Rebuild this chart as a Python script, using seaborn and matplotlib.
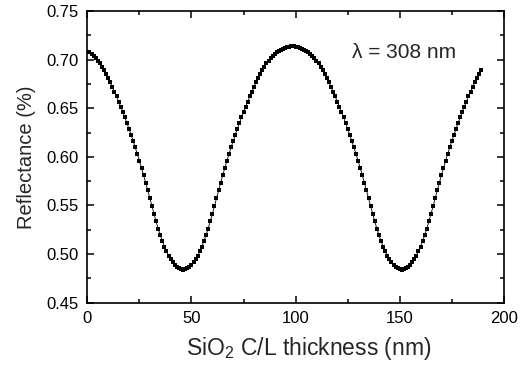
import numpy as np
import pandas as pd
import matplotlib
matplotlib.use("Agg")
import matplotlib.pyplot as plt
from matplotlib.ticker import MultipleLocator
import seaborn as sns

# SiO2 cap-layer thickness (nm), sampled every 1 nm
thickness = np.arange(0, 190)

# Reflectance at 308 nm for each thickness
reflectance = [
    0.7080, 0.7074, 0.7056, 0.7036, 0.7014, 0.6989, 0.6961, 0.6929, 0.6894, 0.6855,
    0.6812, 0.6767, 0.6720, 0.6671, 0.6621, 0.6569, 0.6516, 0.6462, 0.6406, 0.6348,
    0.6288, 0.6226, 0.6162, 0.6096, 0.6028, 0.5958, 0.5886, 0.5811, 0.5734, 0.5655,
    0.5574, 0.5492, 0.5412, 0.5335, 0.5262, 0.5195, 0.5133, 0.5077, 0.5028, 0.4984,
    0.4946, 0.4913, 0.4887, 0.4866, 0.4852, 0.4843, 0.4840, 0.4843, 0.4852, 0.4866,
    0.4887, 0.4913, 0.4946, 0.4984, 0.5028, 0.5077, 0.5133, 0.5195, 0.5262, 0.5335,
    0.5412, 0.5492, 0.5574, 0.5655, 0.5734, 0.5811, 0.5886, 0.5958, 0.6028, 0.6096,
    0.6162, 0.6226, 0.6288, 0.6348, 0.6406, 0.6462, 0.6516, 0.6569, 0.6621, 0.6671,
    0.6720, 0.6767, 0.6812, 0.6855, 0.6894, 0.6929, 0.6961, 0.6989, 0.7014, 0.7036,
    0.7056, 0.7074, 0.7090, 0.7103, 0.7114, 0.7123, 0.7130, 0.7134, 0.7136, 0.7136,
    0.7134, 0.7130, 0.7123, 0.7114, 0.7103, 0.7090, 0.7074, 0.7056, 0.7036, 0.7014,
    0.6989, 0.6961, 0.6929, 0.6894, 0.6855, 0.6812, 0.6767, 0.6720, 0.6671, 0.6621,
    0.6569, 0.6516, 0.6462, 0.6406, 0.6348, 0.6288, 0.6226, 0.6162, 0.6096, 0.6028,
    0.5958, 0.5886, 0.5811, 0.5734, 0.5655, 0.5574, 0.5492, 0.5412, 0.5335, 0.5262,
    0.5195, 0.5133, 0.5077, 0.5028, 0.4984, 0.4946, 0.4913, 0.4887, 0.4866, 0.4852,
    0.4843, 0.4840, 0.4843, 0.4852, 0.4866, 0.4887, 0.4913, 0.4946, 0.4984, 0.5028,
    0.5077, 0.5133, 0.5195, 0.5262, 0.5335, 0.5412, 0.5492, 0.5574, 0.5655, 0.5734,
    0.5811, 0.5886, 0.5958, 0.6028, 0.6096, 0.6162, 0.6226, 0.6288, 0.6348, 0.6406,
    0.6462, 0.6516, 0.6569, 0.6621, 0.6671, 0.6720, 0.6767, 0.6812, 0.6855, 0.6894,
]

x_ticks = [0, 50, 100, 150, 200]
y_ticks = [0.45, 0.50, 0.55, 0.60, 0.65, 0.70, 0.75]
x_label = "SiO$_2$ C/L thickness (nm)"
y_label = "Reflectance (%)"
note = "\u03bb = 308 nm"

sns.set_style("ticks")
plt.rcParams["font.family"] = ["Liberation Sans", "DejaVu Sans"]
plt.rcParams["mathtext.fontset"] = "custom"
plt.rcParams["mathtext.rm"] = "Liberation Sans"
plt.rcParams["mathtext.it"] = "Liberation Sans:italic"

df = pd.DataFrame({"thickness": thickness, "reflectance": reflectance})

fig = plt.figure(figsize=(5.2, 3.69), dpi=100)
ax = fig.add_axes([0.168, 0.180, 0.801, 0.790])

sns.lineplot(data=df, x="thickness", y="reflectance", ax=ax,
             color="black", linewidth=0.6, marker="s", markersize=2.6,
             markeredgewidth=0, markerfacecolor="black")

ax.set_xlim(0, 200)
ax.set_ylim(0.45, 0.75)
ax.set_xticks(x_ticks)
ax.set_xticklabels([str(v) for v in x_ticks])
ax.set_yticks(y_ticks)
ax.set_yticklabels([f"{v:.2f}" for v in y_ticks])
ax.xaxis.set_minor_locator(MultipleLocator(25))
ax.yaxis.set_minor_locator(MultipleLocator(0.025))

ax.tick_params(which="both", direction="in", top=True, right=True,
               width=1.1, colors="black")
ax.tick_params(which="major", length=5, labelsize=12, pad=6)
ax.tick_params(which="minor", length=2.8)
for side in ax.spines.values():
    side.set_linewidth(1.2)
    side.set_color("black")

ax.set_xlabel(x_label, fontsize=16.5)
ax.xaxis.set_label_coords(0.532, -0.112)
ax.set_ylabel(y_label, fontsize=14.5, labelpad=8)

ax.text(127, 0.707, note, fontsize=15, ha="left", va="center")

fig.savefig("out.png", dpi=100)
